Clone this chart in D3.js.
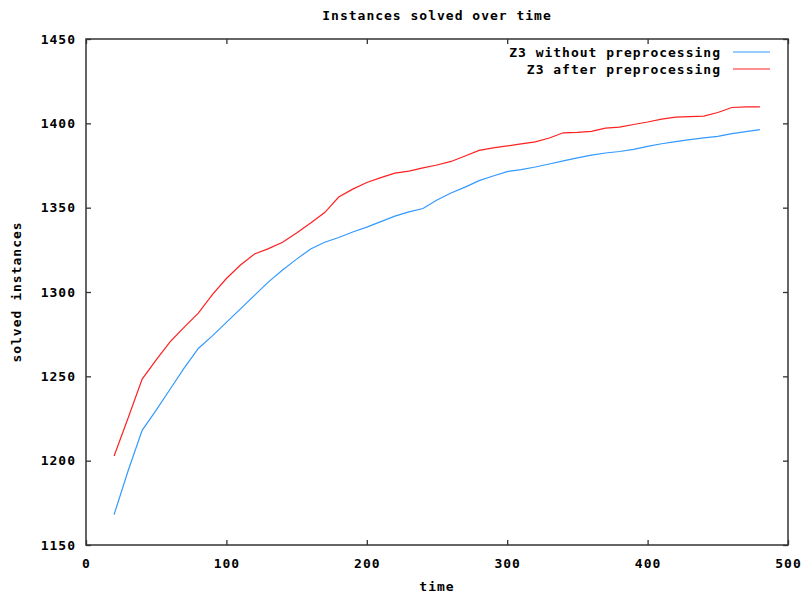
<!DOCTYPE html>
<html>
<head>
<meta charset="utf-8">
<script src="https://cdn.jsdelivr.net/npm/d3@7"></script>
<style>
  body { margin: 0; background: #fff; }
  svg text { font-family: "DejaVu Sans Mono", monospace; font-weight: bold; font-size: 13px; letter-spacing: 1px; fill: #000; }
</style>
</head>
<body>
<div id="linegraph"></div>
<script>
'use strict';

// time samples (x axis)
var times = [20, 30, 40, 50, 60, 70, 80, 90, 100, 110, 120, 130, 140, 150, 160, 170, 180, 190, 200,
             210, 220, 230, 240, 250, 260, 270, 280, 290, 300, 310, 320, 330, 340, 350, 360, 370, 380,
             390, 400, 410, 420, 430, 440, 450, 460, 470, 480];

// solved instances, Z3 without preprocessing
var withoutPre = [1168, 1194, 1218, 1230, 1242.5, 1255, 1266.5, 1274, 1282, 1290, 1298, 1306, 1313, 1319.5, 1325.5, 1329.5, 1332.3, 1335.6, 1338.5,
                  1341.7, 1345, 1347.5, 1349.5, 1354.5, 1358.7, 1362.2, 1366, 1368.8, 1371.4, 1372.6, 1374.1, 1375.9, 1377.7, 1379.5, 1381.2, 1382.4, 1383.3,
                  1384.6, 1386.3, 1387.9, 1389.2, 1390.3, 1391.4, 1392.3, 1393.9, 1395.1, 1396.3];

// solved instances, Z3 after preprocessing
var afterPre = [1202.8, 1225.3, 1248.4, 1259.7, 1270.6, 1279.2, 1287.5, 1298.5, 1308, 1316, 1322.5, 1325.7, 1329.5, 1335, 1340.9, 1347.1, 1356.3, 1361, 1364.9,
                1367.8, 1370.5, 1371.7, 1373.6, 1375.3, 1377.4, 1380.6, 1384, 1385.4, 1386.6, 1387.8, 1389, 1391.3, 1394.4, 1394.6, 1395.2, 1397.2, 1397.8,
                1399.3, 1400.8, 1402.5, 1403.7, 1404, 1404.3, 1406.4, 1409.4, 1409.7, 1409.7];

var xTicks = [0, 100, 200, 300, 400, 500];
var yTicks = [1150, 1200, 1250, 1300, 1350, 1400, 1450];

var seriesNames = ["Z3 without preprocessing", "Z3 after preprocessing"];
var seriesColors = ["#3399ff", "#ff2020"];

// set the dimensions and margins of the graph
var margin = {top: 39, right: 18, bottom: 48, left: 86},
    width  = 806 - margin.left - margin.right,
    height = 593 - margin.top  - margin.bottom;

var x = d3.scaleLinear().domain([0, 500]).range([0, width]);
var y = d3.scaleLinear().domain([1150, 1450]).range([height, 0]);

var svg = d3.select("#linegraph")
    .append("svg")
    .attr("width", width + margin.left + margin.right)
    .attr("height", height + margin.top + margin.bottom);

var g = svg.append("g").attr("transform", "translate(" + margin.left + "," + margin.top + ")");

// axes, ticks pointing inward on all four sides
function styleAxis(sel) {
    sel.select(".domain").remove();
    sel.selectAll(".tick line").attr("stroke", "#333").attr("stroke-width", 1.3);
    sel.selectAll(".tick text").attr("font-family", null).attr("font-size", null);
}

g.append("g")
    .attr("transform", "translate(0," + height + ")")
    .call(d3.axisBottom(x).tickValues(xTicks).tickFormat(d3.format("d"))
        .tickSizeInner(-5).tickSizeOuter(0).tickPadding(14))
    .call(styleAxis);

g.append("g")
    .call(d3.axisTop(x).tickValues(xTicks).tickSizeInner(-5).tickSizeOuter(0).tickFormat(""))
    .call(styleAxis);

g.append("g")
    .call(d3.axisLeft(y).tickValues(yTicks).tickFormat(d3.format("d"))
        .tickSizeInner(-5).tickSizeOuter(0).tickPadding(10))
    .call(styleAxis);

g.append("g")
    .attr("transform", "translate(" + width + ",0)")
    .call(d3.axisRight(y).tickValues(yTicks).tickSizeInner(-5).tickSizeOuter(0).tickFormat(""))
    .call(styleAxis);

// border
g.append("rect")
    .attr("width", width)
    .attr("height", height)
    .attr("fill", "none")
    .attr("stroke", "#333")
    .attr("stroke-width", 1.5);

// lines
var valueline = d3.line()
    .x(function(d) { return x(d[0]); })
    .y(function(d) { return y(d[1]); });

[withoutPre, afterPre].forEach(function(vals, i) {
    g.append("path")
        .datum(times.map(function(t, j) { return [t, vals[j]]; }))
        .attr("fill", "none")
        .attr("stroke", seriesColors[i])
        .attr("stroke-width", 1.2)
        .attr("d", valueline);
});

// legend
var legend = g.append("g").attr("transform", "translate(" + (width - 67) + ",13)");
seriesNames.forEach(function(name, i) {
    var row = legend.append("g").attr("transform", "translate(0," + (i * 17) + ")");
    row.append("text")
        .attr("x", 0)
        .attr("y", 4.5)
        .attr("text-anchor", "end")
        .text(name);
    row.append("line")
        .attr("x1", 12).attr("x2", 49)
        .attr("stroke", seriesColors[i])
        .attr("stroke-width", 1.2);
});

// title and axis labels
svg.append("text")
    .attr("x", margin.left + width / 2)
    .attr("y", 20)
    .attr("text-anchor", "middle")
    .text("Instances solved over time");

svg.append("text")
    .attr("x", margin.left + width / 2)
    .attr("y", 591)
    .attr("text-anchor", "middle")
    .text("time");

svg.append("text")
    .attr("transform", "translate(21," + (margin.top + height / 2) + ") rotate(-90)")
    .attr("text-anchor", "middle")
    .text("solved instances");
</script>
</body>
</html>
